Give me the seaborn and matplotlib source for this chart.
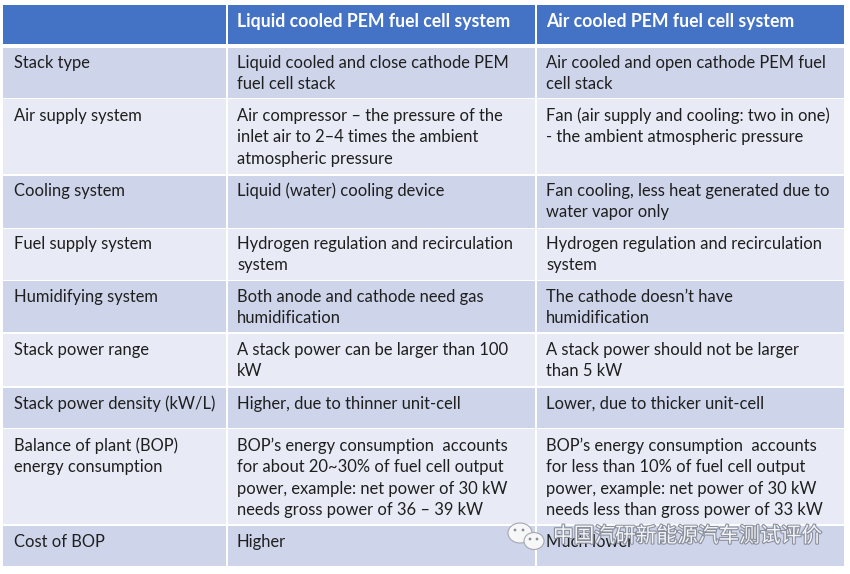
import numpy as np
import seaborn as sns
import matplotlib
matplotlib.use("Agg")
import matplotlib.pyplot as plt
import matplotlib.patheffects as pe
from matplotlib.colors import ListedColormap
from matplotlib.patches import Ellipse, Circle

# table text
headers = ["", "Liquid cooled PEM fuel cell system", "Air cooled PEM fuel cell system"]
row_names = [
    ["Stack type"],
    ["Air supply system"],
    ["Cooling system"],
    ["Fuel supply system"],
    ["Humidifying system"],
    ["Stack power range"],
    ["Stack power density (kW/L)"],
    ["Balance of plant (BOP)", "energy consumption"],
    ["Cost of BOP"],
]
liquid_cells = [
    ["Liquid cooled and close cathode PEM", "fuel cell stack"],
    ["Air compressor – the pressure of the", "inlet air to 2–4 times the ambient", "atmospheric pressure"],
    ["Liquid (water) cooling device"],
    ["Hydrogen regulation and recirculation", "system"],
    ["Both anode and cathode need gas", "humidification"],
    ["A stack power can be larger than 100", "kW"],
    ["Higher, due to thinner unit-cell"],
    ["BOP’s energy consumption  accounts", "for about 20~30% of fuel cell output", "power, example: net power of 30 kW", "needs gross power of 36 – 39 kW"],
    ["Higher"],
]
air_cells = [
    ["Air cooled and open cathode PEM fuel", "cell stack"],
    ["Fan (air supply and cooling: two in one)", "- the ambient atmospheric pressure"],
    ["Fan cooling, less heat generated due to", "water vapor only"],
    ["Hydrogen regulation and recirculation", "system"],
    ["The cathode doesn’t have", "humidification"],
    ["A stack power should not be larger", "than 5 kW"],
    ["Lower, due to thicker unit-cell"],
    ["BOP’s energy consumption  accounts", "for less than 10% of fuel cell output", "power, example: net power of 30 kW", "needs less than gross power of 33 kW"],
    ["Much lower"],
]
watermark = "中国汽研新能源汽车测试评价"

# layout in pixels
W, H = 850, 574
col_edges = [(3, 226), (228, 535), (537, 844)]
col_text_x = [14, 237, 546]
header_band = (5, 44)
row_bands = [(48, 98), (99, 174), (176, 228), (229, 280), (281, 332),
             (334, 386), (388, 428), (429, 524), (526, 566)]
first_line_y = [63, 116, 191, 244, 297, 350, 404, 446, 542]
line_gap = 21.3

# one cell per pixel, 0 = page, 1 = header, 2/3 = banded rows
grid = np.zeros((H, W), dtype=int)
for x0, x1 in col_edges:
    grid[header_band[0]:header_band[1], x0:x1] = 1
    for i, (y0, y1) in enumerate(row_bands):
        grid[y0:y1, x0:x1] = 2 if i % 2 == 0 else 3

sns.set_theme(style="white")
plt.rcParams['font.family'] = ['Lato', 'DejaVu Sans']

fig = plt.figure(figsize=(W / 100, H / 100), dpi=100)
ax = fig.add_axes([0, 0, 1, 1])
cmap = ListedColormap(["#FFFFFF", "#4472C4", "#CED5EA", "#E8EBF5"])
sns.heatmap(grid, cmap=cmap, vmin=-0.5, vmax=3.5, cbar=False,
            xticklabels=False, yticklabels=False, ax=ax)
ax.set_xlim(0, W)
ax.set_ylim(H, 0)
ax.set_axis_off()

text_col = "#1F1F1F"
for x, label in zip(col_text_x, headers):
    ax.text(x, 22, label, color="white", fontsize=12.7, fontweight="bold", va="center")

for x, cells in zip(col_text_x, [row_names, liquid_cells, air_cells]):
    for y, lines in zip(first_line_y, cells):
        for k, line in enumerate(lines):
            ax.text(x, y + k * line_gap, line, color=text_col, fontsize=11.9, va="center")

# watermark with the WeChat mark
halo = [pe.withStroke(linewidth=1.6, foreground="#8A8F9C")]
ax.text(553, 536, watermark, color="#F4F5F8", fontsize=14.9,
        family=['Noto Sans CJK SC', 'DejaVu Sans'], va="center", path_effects=halo)
for cx, cy, w, h in [(520, 533, 24, 20), (534, 541, 20, 17)]:
    ax.add_patch(Ellipse((cx, cy), w, h, fc="#F7F7F7", ec="#A5A8B0", lw=0.8, zorder=3))
for cx, cy in [(515, 530), (523, 530), (530, 539), (537, 539)]:
    ax.add_patch(Circle((cx, cy), 1.4, fc="#8A8F9C", ec="none", zorder=4))

fig.savefig("out.png", dpi=100)
